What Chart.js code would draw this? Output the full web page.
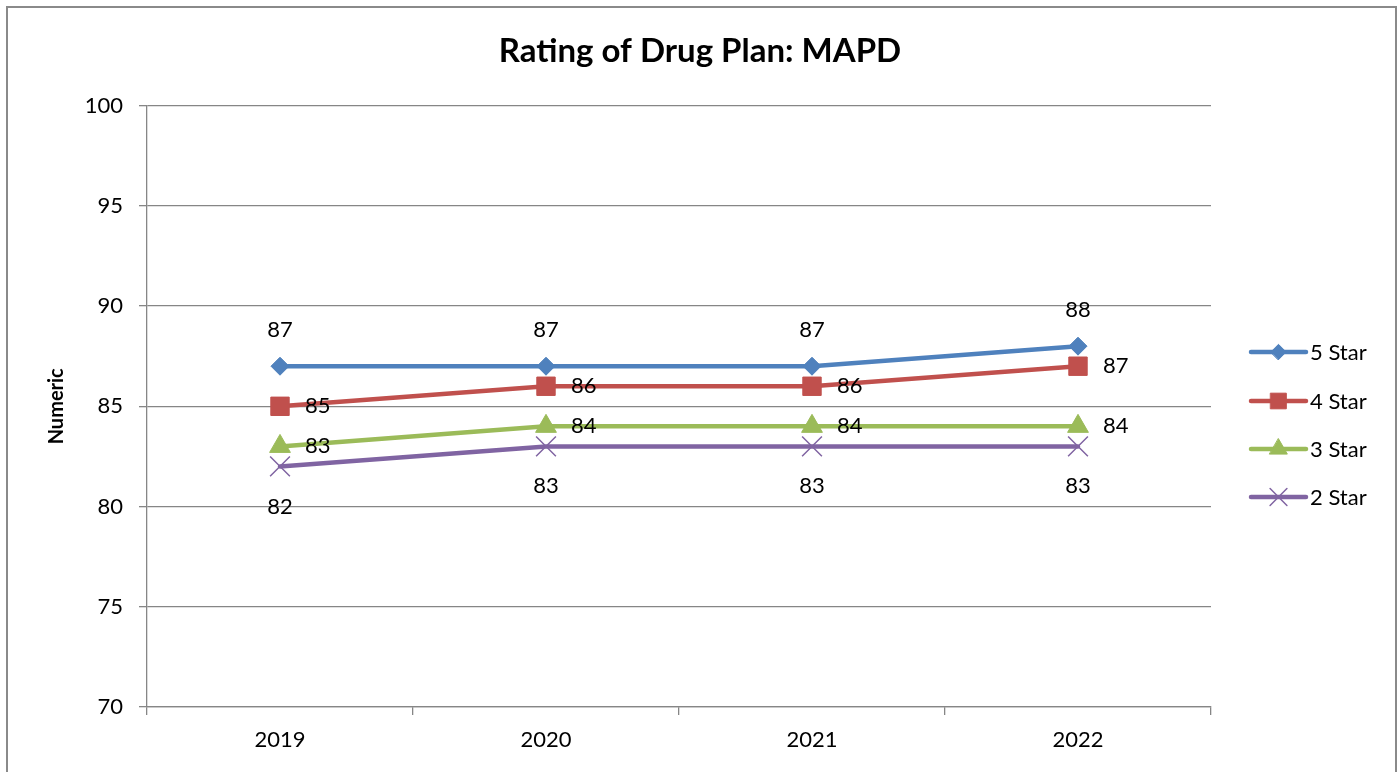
<!DOCTYPE html>
<html>
<head>
<meta charset="utf-8">
<script src="https://cdn.jsdelivr.net/npm/chart.js@4.4.1/dist/chart.umd.min.js"></script>
<style>
html,body{margin:0;padding:0;background:#fff;}
#wrap{position:absolute;left:0;top:0;width:1400px;height:772px;}
</style>
</head>
<body>
<div id="wrap"><canvas id="c" width="1400" height="772"></canvas></div>
<script>
const categories = ['2019', '2020', '2021', '2022'];
const star5 = [87, 87, 87, 88];
const star4 = [85, 86, 86, 87];
const star3 = [83, 84, 84, 84];
const star2 = [82, 83, 83, 83];
const seriesNames = ['5 Star', '4 Star', '3 Star', '2 Star'];
const yMin = 70, yMax = 100, yStep = 5;
const chartTitle = 'Rating of Drug Plan: MAPD';
const yTitle = 'Numeric';

const FONT = 'Lato, "Open Sans", sans-serif';
const GRID = '#868686';
const labelPos = ['top', 'right', 'right', 'bottom'];

const styles = [
  {color: '#4F81BD', pointStyle: 'rectRot', radius: 9, pbw: 1},
  {color: '#C0504D', pointStyle: 'rect', radius: 13, pbw: 1},
  {color: '#9BBB59', pointStyle: 'triangle', radius: 12, pbw: 1},
  {color: '#8064A2', pointStyle: 'crossRot', radius: 14, pbw: 1.5}
];
const values = [star5, star4, star3, star2];

const datasets = values.map((v, i) => ({
  label: seriesNames[i],
  data: v,
  yAxisID: 'y',
  borderColor: styles[i].color,
  backgroundColor: styles[i].color,
  borderWidth: 4.5,
  pointStyle: styles[i].pointStyle,
  pointRadius: styles[i].radius,
  pointHoverRadius: styles[i].radius,
  pointBorderWidth: styles[i].pbw,
  pointBackgroundColor: styles[i].color,
  pointBorderColor: styles[i].color,
  tension: 0,
  borderCapStyle: 'round'
}));

const framePlugin = {
  id: 'frame',
  beforeDraw(chart) {
    const ctx = chart.ctx;
    ctx.save();
    ctx.fillStyle = '#fff';
    ctx.fillRect(0, 0, chart.width, chart.height);
    ctx.strokeStyle = '#8a8a8a';
    ctx.lineWidth = 2;
    ctx.strokeRect(7, 7, 1389, 800);
    ctx.restore();
  }
};

const labelPlugin = {
  id: 'dataLabels',
  afterDatasetsDraw(chart) {
    const ctx = chart.ctx;
    ctx.save();
    ctx.font = '22px ' + FONT;
    ctx.fillStyle = '#000';
    chart.data.datasets.forEach((ds, i) => {
      const meta = chart.getDatasetMeta(i);
      meta.data.forEach((pt, j) => {
        const txt = String(ds.data[j]);
        let x = pt.x, y = pt.y;
        const pos = labelPos[i];
        if (pos === 'top') { ctx.textAlign = 'center'; ctx.textBaseline = 'middle'; y -= 36; }
        else if (pos === 'bottom') { ctx.textAlign = 'center'; ctx.textBaseline = 'middle'; y += 40; }
        else { ctx.textAlign = 'left'; ctx.textBaseline = 'middle'; x += 25; }
        ctx.fillText(txt, x, y);
      });
    });
    ctx.restore();
  }
};

const legendPlugin = {
  id: 'sideLegend',
  afterDraw(chart) {
    const ctx = chart.ctx;
    ctx.save();
    const x0 = 1251, x1 = 1306, ys = [352, 401, 449, 497];
    chart.data.datasets.forEach((ds, i) => {
      const y = ys[i];
      ctx.strokeStyle = ds.borderColor;
      ctx.lineWidth = 4.5;
      ctx.lineCap = 'round';
      ctx.beginPath(); ctx.moveTo(x0, y); ctx.lineTo(x1, y); ctx.stroke();
      ctx.lineWidth = ds.pointBorderWidth;
      ctx.fillStyle = ds.pointBackgroundColor;
      ctx.strokeStyle = ds.pointBorderColor;
      Chart.helpers.drawPoint(ctx, {pointStyle: ds.pointStyle, radius: ds.pointRadius * 0.85, borderWidth: ds.pointBorderWidth, rotation: 0}, (x0 + x1) / 2, y);
      ctx.fillStyle = '#000';
      ctx.font = '22px ' + FONT;
      ctx.textAlign = 'left';
      ctx.textBaseline = 'middle';
      ctx.fillText(ds.label, x1 + 4, y + 1);
    });
    ctx.restore();
  }
};

new Chart(document.getElementById('c'), {
  type: 'line',
  data: { labels: categories, datasets },
  plugins: [framePlugin, labelPlugin, legendPlugin],
  options: {
    responsive: false,
    animation: false,
    devicePixelRatio: 1,
    layout: { padding: { left: 0, right: 0, top: 0, bottom: 0 } },
    plugins: {
      legend: { display: false },
      tooltip: { enabled: false },
      title: {
        display: true,
        text: chartTitle,
        color: '#000',
        font: { family: FONT, size: 33, weight: 'bold', lineHeight: 1.2 },
        padding: { top: 32, bottom: 34 }
      }
    },
    scales: {
      x: {
        type: 'category',
        offset: true,
        grid: { display: true, drawOnChartArea: false, drawTicks: true, tickLength: 8, offset: true, color: GRID, lineWidth: 1.3 },
        border: { display: true, color: GRID, width: 1.3 },
        ticks: { color: '#000', font: { family: FONT, size: 22 }, padding: 12, maxRotation: 0 },
        afterFit(scale) { scale.height = 65; }
      },
      y: {
        position: 'left',
        min: yMin, max: yMax,
        ticks: { stepSize: yStep, color: '#000', font: { family: FONT, size: 22 }, padding: 16 },
        grid: { color: GRID, lineWidth: 1.3, drawTicks: true, tickLength: 8 },
        border: { display: true, color: GRID, width: 1.3 },
        title: { display: true, text: yTitle, color: '#000', font: { family: FONT, size: 20, weight: 'bold' }, padding: { top: 45, bottom: 0 } },
        afterFit(scale) { scale.width = 147; }
      },
      legendSpace: {
        position: 'right',
        min: yMin, max: yMax,
        ticks: { display: false },
        grid: { display: false, drawTicks: false },
        border: { display: false },
        afterFit(scale) { scale.width = 189; }
      }
    }
  }
});
</script>
</body>
</html>
